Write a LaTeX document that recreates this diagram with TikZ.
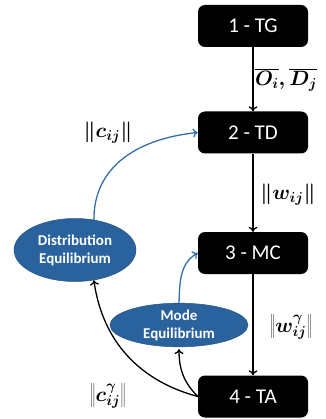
\documentclass[tikz,border=0pt]{standalone}
\usepackage{fontspec}
\setmainfont{Carlito}
\usetikzlibrary{arrows.meta,shapes.geometric}
\definecolor{eqblue}{RGB}{42,98,158}
\definecolor{arrblue}{RGB}{50,110,170}
\tikzset{
  box/.style={fill=black, rounded corners=7pt, minimum width=110pt, minimum height=42pt,
    inner sep=0pt, text=white, font=\fontsize{21}{24}\selectfont},
  ell/.style={ellipse, fill=eqblue, draw=eqblue!85!black, line width=0.5pt, inner sep=0pt,
    text=white, align=center, font=\fontsize{15}{18}\selectfont\bfseries},
  flow/.style={draw=black, line width=1.3pt, -{To[length=5pt,width=9pt]}},
  bflow/.style={draw=arrblue, line width=1.3pt, -{To[length=5pt,width=9pt]}},
  lab/.style={inner sep=0pt, font=\fontsize{22}{26}\selectfont\boldmath}
}
\begin{document}
\begin{tikzpicture}[x=1pt,y=1pt]
\useasboundingbox (0,0) rectangle (325,-419);
\node[box] (TG) at (253,-26) {1 - TG};
\node[box] (TD) at (253,-132.5) {2 - TD};
\node[box] (MC) at (253,-253) {3 - MC};
\node[box] (TA) at (253,-396.5) {4 - TA};
\node[ell, minimum width=122pt, minimum height=63pt] (DE) at (75,-250) {Distribution\\Equilibrium};
\node[ell, minimum width=138pt, minimum height=36pt] (ME) at (179,-325) {Mode\\Equilibrium};
\draw[flow] (TG) -- (TD);
\draw[flow] (TD) -- (MC);
\draw[flow] (MC) -- (TA);
\node[lab] (l1) at (286,-80) {$\overline{O_i},\overline{D_j}$};
\node[lab] (l2) at (288,-195) {$\left\|w_{ij}\right\|$};
\node[lab] (l3) at (291,-327) {$\left\|w_{ij}^{\gamma}\right\|$};
\node[lab] (l4) at (108,-133) {$\left\|c_{ij}\right\|$};
\node[lab] (l5) at (108,-396) {$\left\|c_{ij}^{\gamma}\right\|$};
\draw[bflow] (DE.58) .. controls +(0,55) and +(-58,-6) .. (TD.west);
\draw[bflow] (ME.north) to[out=88,in=210] (MC.west);
\draw[flow] (TA.west) to[out=165,in=-82] (DE.-58);
\draw[flow] (TA.west) to[out=135,in=-90] ([yshift=-2pt]ME.south);
\end{tikzpicture}
\end{document}
